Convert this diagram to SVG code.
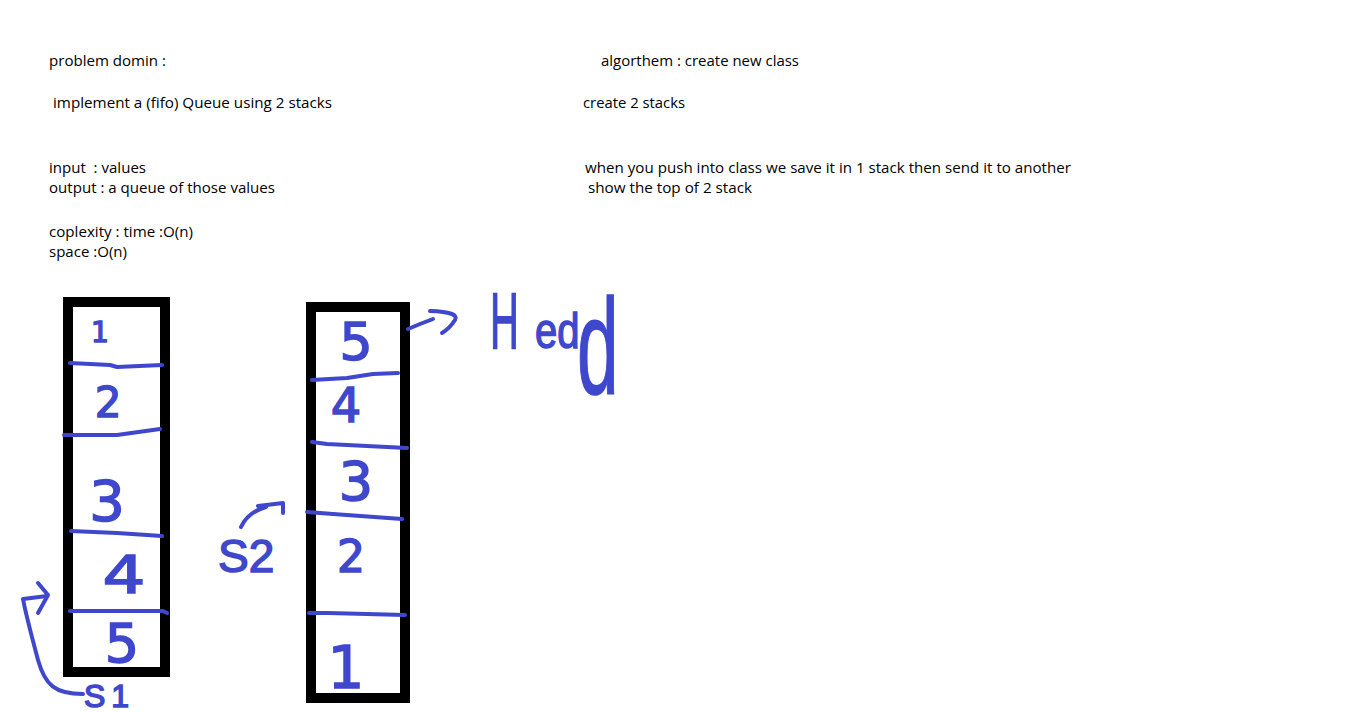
<svg xmlns="http://www.w3.org/2000/svg" width="1354" height="712" viewBox="0 0 1354 712">
<style>
.t{font-family:"Open Sans","Noto Sans","Liberation Sans",sans-serif;font-size:15px;fill:#000}
.box{fill:#fff;stroke:#000;stroke-width:10}
.ink{fill:none;stroke:#3F48CC;stroke-width:4;stroke-linecap:round;stroke-linejoin:round}
.hw{font-family:"DejaVu Sans","Liberation Sans",sans-serif;fill:#3F48CC;stroke:#3F48CC;stroke-width:1.5;text-anchor:middle}
.hl{font-family:"Liberation Sans","DejaVu Sans",sans-serif;fill:#3F48CC;stroke:#3F48CC;stroke-width:1.5}
</style>
<rect width="1354" height="712" fill="#fff"/>
<g id="problem-text">
<text class="t" x="49" y="66" textLength="117" lengthAdjust="spacingAndGlyphs">problem domin :</text>
<text class="t" x="53" y="108" textLength="279" lengthAdjust="spacingAndGlyphs">implement a (fifo) Queue using 2 stacks</text>
<text class="t" x="49" y="173" textLength="97" lengthAdjust="spacingAndGlyphs" xml:space="preserve">input  : values</text>
<text class="t" x="49" y="193" textLength="226" lengthAdjust="spacingAndGlyphs">output : a queue of those values</text>
<text class="t" x="49" y="237" textLength="144" lengthAdjust="spacingAndGlyphs">coplexity : time :O(n)</text>
<text class="t" x="49" y="257" textLength="78" lengthAdjust="spacingAndGlyphs">space :O(n)</text>
</g>
<g id="algorithm-text">
<text class="t" x="601" y="66" textLength="198" lengthAdjust="spacingAndGlyphs">algorthem : create new class</text>
<text class="t" x="583" y="108" textLength="102" lengthAdjust="spacingAndGlyphs">create 2 stacks</text>
<text class="t" x="585" y="173" textLength="486" lengthAdjust="spacingAndGlyphs">when you push into class we save it in 1 stack then send it to another</text>
<text class="t" x="588" y="193" textLength="164" lengthAdjust="spacingAndGlyphs">show the top of 2 stack</text>
</g>
<g id="stack1">
<rect class="box" x="68" y="302" width="97" height="370"/>
<path class="ink" d="M70 363 L110 365 L117 367 L162 365"/>
<path class="ink" d="M64 435 L117 435 L160 429"/>
<path class="ink" d="M71 531 L117 533 L162 536"/>
<path class="ink" d="M70 611 L163 611 L167 613"/>
<text class="hw" x="100" y="342" font-size="28">1</text>
<text class="hw" x="108" y="417" font-size="42">2</text>
<text class="hw" x="107" y="520" font-size="56">3</text>
<text class="hw" transform="translate(124 593) scale(1.3 1)" font-size="52">4</text>
<text class="hw" x="122" y="662" font-size="54">5</text>
</g>
<g id="stack2">
<rect class="box" x="311" y="307" width="94" height="391"/>
<path class="ink" d="M312 380 L347 378 L373 374 L398 373"/>
<path class="ink" d="M312 442 L327 444 L407 448"/>
<path class="ink" d="M307 512 L333 514 L402 519"/>
<path class="ink" d="M309 613 L328 613 L405 615"/>
<text class="hw" x="356" y="360" font-size="52">5</text>
<text class="hw" x="346" y="422" font-size="48">4</text>
<text class="hw" x="356" y="500" font-size="54">3</text>
<text class="hw" x="351" y="572" font-size="44">2</text>
<text class="hw" x="346" y="688" font-size="58">1</text>
</g>
<g id="label-s1">
<text class="hl" x="84" y="707" font-size="32" letter-spacing="6">S1</text>
</g>
<g id="label-s2">
<text class="hl" x="218" y="572" font-size="46">S2</text>
</g>
<g id="label-head">
<text class="hl" transform="translate(490 348) scale(0.5 1)" font-size="80">H</text>
<text class="hl" transform="translate(535 348) scale(0.8 1)" font-size="50">ed</text>
<text class="hl" transform="translate(577 393) scale(0.55 1)" font-size="136">d</text>
</g>
<g id="connectors">
<path class="ink" d="M83 694 C55 694 45 685 38 660 C30 630 25 610 23 599 L47 596"/>
<path class="ink" d="M38 583 L48 595 L38 613"/>
<path class="ink" d="M241 527 Q248 512 266 507"/>
<path class="ink" d="M258 506 L283 503 L283 513"/>
<path class="ink" d="M408 329 L420 324 L433 319"/>
<path class="ink" d="M430 311 Q460 312 455 320 Q450 328 442 333"/>
</g>
</svg>
